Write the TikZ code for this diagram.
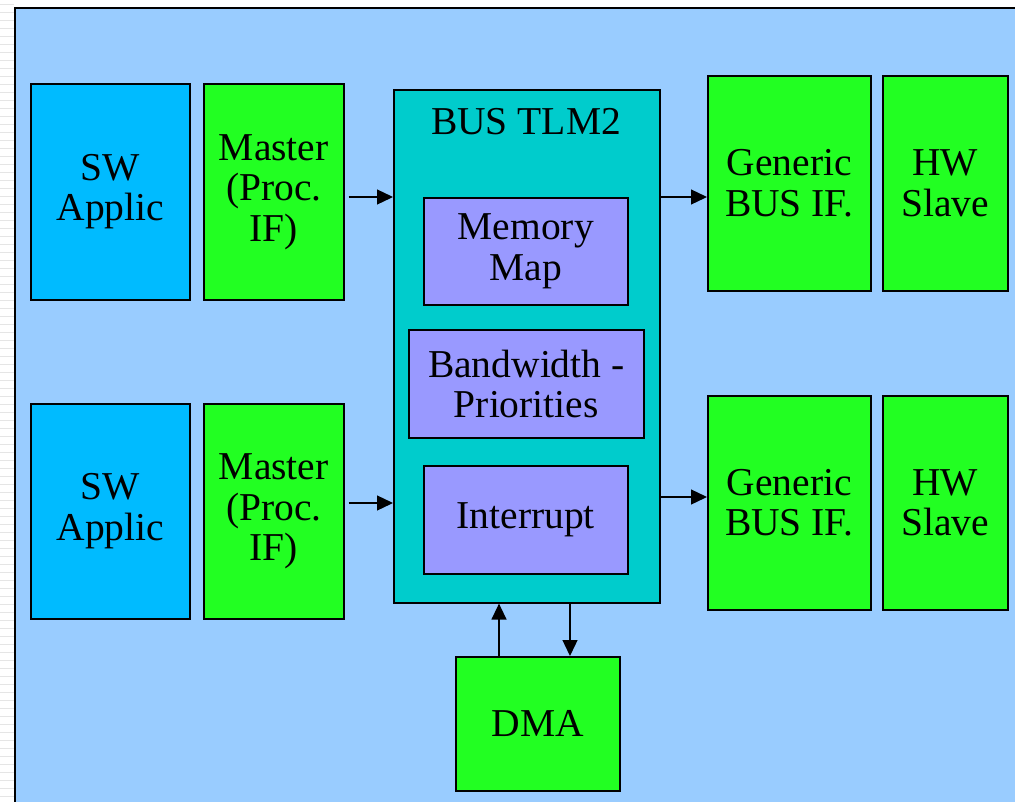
\documentclass[tikz,border=0pt]{standalone}
\usepackage{fontspec}
\setmainfont{Liberation Serif}
\usetikzlibrary{arrows.meta}
\definecolor{panel}{RGB}{153,204,255}
\definecolor{swblue}{RGB}{0,187,255}
\definecolor{hwgreen}{RGB}{34,255,34}
\definecolor{busteal}{RGB}{0,204,204}
\definecolor{lilac}{RGB}{153,153,255}
\tikzset{
  blk/.style={draw=black, line width=1.6pt, inner sep=0pt, anchor=north west,
    align=center, font=\fontsize{39.5}{40.5}\selectfont},
  sw/.style={blk, fill=swblue},
  hw/.style={blk, fill=hwgreen},
  sub/.style={blk, fill=lilac},
  link/.style={line width=1.3pt, -{Triangle[length=16pt,width=15pt]}},
}
\begin{document}
\begin{tikzpicture}[x=1pt,y=-1pt]
\useasboundingbox (0,0) rectangle (1015,801);
\fill[white] (0,0) rectangle (1015,801);
\foreach \yy in {4,12,...,800} \draw[black!10, line width=1pt] (0,\yy) -- (14,\yy);
\draw[line width=1.6pt, fill=panel] (15,8) rectangle (1030,820);

% processor side
\node[sw, minimum width=159pt, minimum height=216pt] (sw1) at (30,83) {SW\\Applic};
\node[hw, minimum width=140pt, minimum height=216pt] (m1) at (203,83) {Master\\(Proc.\\IF)};
\node[sw, minimum width=159pt, minimum height=215pt] (sw2) at (30,403) {SW\\Applic};
\node[hw, minimum width=140pt, minimum height=215pt] (m2) at (203,403) {Master\\(Proc.\\IF)};

% bus model
\node[blk, fill=busteal, minimum width=266pt, minimum height=513pt] (bus) at (393,89) {};
\node[font=\fontsize{39.5}{40.5}\selectfont] (bustitle) at (526,122) {BUS TLM2};
\node[sub, minimum width=204pt, minimum height=107pt] (mem) at (423,197) {Memory\\Map};
\node[sub, minimum width=235pt, minimum height=108pt] (bw) at (408,329) {Bandwidth -\\Priorities};
\node[sub, minimum width=204pt, minimum height=108pt] (irq) at (423,465) {Interrupt};

% slave side
\node[hw, minimum width=163pt, minimum height=215pt] (g1) at (707,75) {Generic\\BUS IF.};
\node[hw, minimum width=125pt, minimum height=215pt] (s1) at (882,75) {HW\\Slave};
\node[hw, minimum width=163pt, minimum height=214pt] (g2) at (707,395) {Generic\\BUS IF.};
\node[hw, minimum width=125pt, minimum height=214pt] (s2) at (882,395) {HW\\Slave};

\node[hw, minimum width=164pt, minimum height=134pt] (dma) at (455,656) {DMA};

% connections
\draw[link] (m1.east |- 0,197) ++(4,0) -- (bus.west |- 0,197);
\draw[link] (m2.east |- 0,503) ++(4,0) -- (bus.west |- 0,503);
\draw[link] (bus.east |- 0,197) -- (g1.west |- 0,197);
\draw[link] (bus.east |- 0,497) -- (g2.west |- 0,497);
\draw[link] (dma.north -| 499,0) -- (bus.south -| 499,0);
\draw[link] (bus.south -| 570,0) -- (dma.north -| 570,0);
\end{tikzpicture}
\end{document}
